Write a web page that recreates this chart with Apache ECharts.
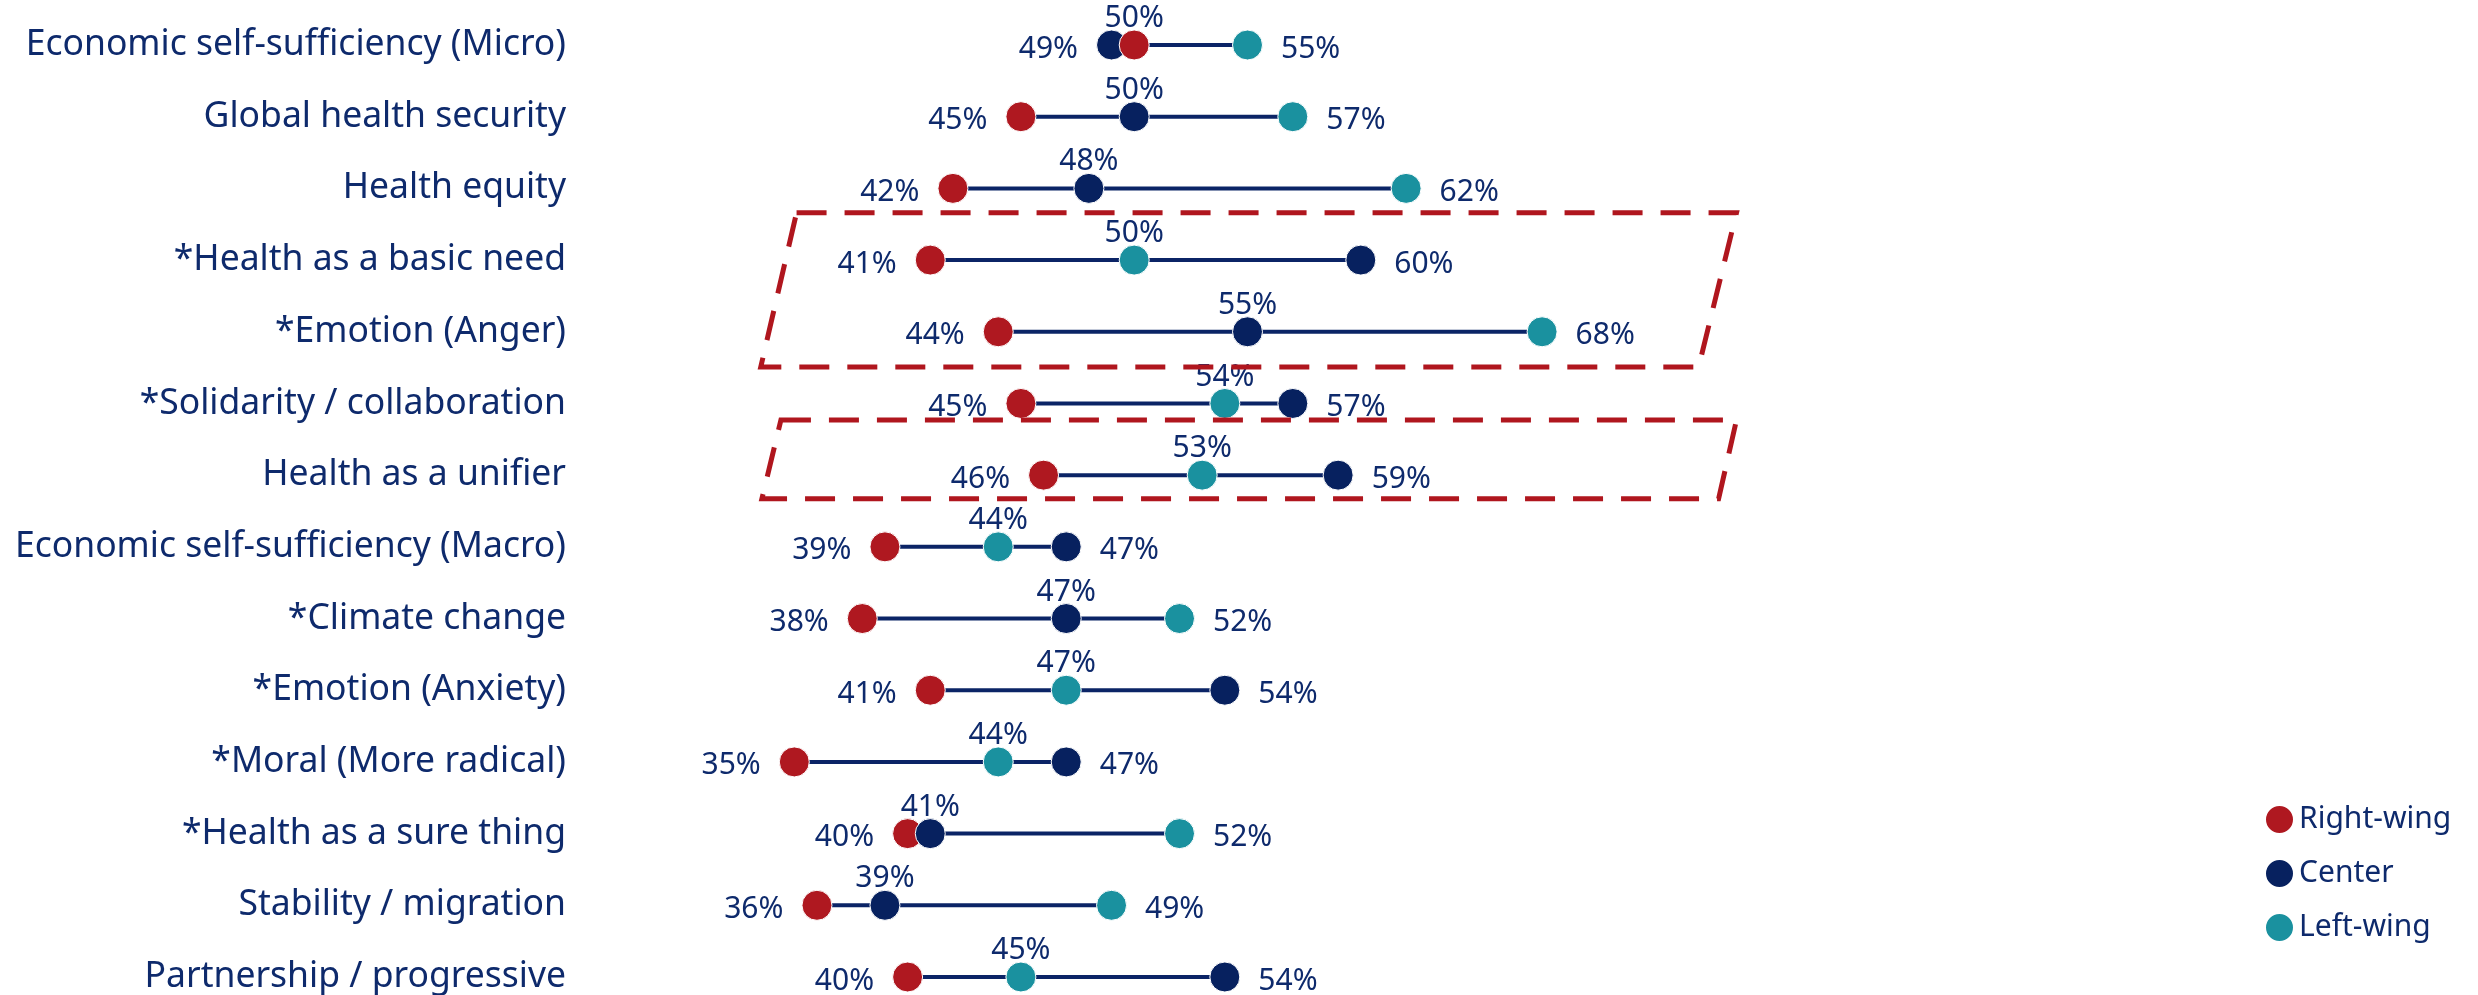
<!DOCTYPE html>
<html>
<head>
<meta charset="utf-8">
<script src="https://cdn.jsdelivr.net/npm/echarts@6/dist/echarts.min.js"></script>
<style>
  html, body { margin: 0; padding: 0; background: #fff; }
  #chart { width: 2478px; height: 995px; }
</style>
</head>
<body>
<div id="chart"></div>
<script>
// topic rows, top to bottom
const categories = [
  'Economic self-sufficiency (Micro)',
  'Global health security',
  'Health equity',
  '*Health as a basic need',
  '*Emotion (Anger)',
  '*Solidarity / collaboration',
  'Health as a unifier',
  'Economic self-sufficiency (Macro)',
  '*Climate change',
  '*Emotion (Anxiety)',
  '*Moral (More radical)',
  '*Health as a sure thing',
  'Stability / migration',
  'Partnership / progressive'
];
const rightWing = [50, 45, 42, 41, 44, 45, 46, 39, 38, 41, 35, 40, 36, 40];
const center    = [49, 50, 48, 60, 55, 57, 59, 47, 47, 54, 47, 41, 39, 54];
const leftWing  = [55, 57, 62, 50, 68, 54, 53, 44, 52, 47, 44, 52, 49, 45];

const groups = [
  { name: 'Right-wing', values: rightWing, color: '#AF1820' },
  { name: 'Center',     values: center,    color: '#07215F' },
  { name: 'Left-wing',  values: leftWing,  color: '#1A919F' }
];

const textColor = '#0E2A6C';
const font = 'Noto Sans';

const chart = echarts.init(document.getElementById('chart'));

// which dot is lowest / middle / highest in each row
function rankOf(gi, row) {
  const vals = groups.map(g => g.values[row]);
  const v = vals[gi];
  const sorted = vals.slice().sort((a, b) => a - b);
  if (v === sorted[0] && vals.indexOf(sorted[0]) === gi) return 'min';
  if (v === sorted[2] && vals.lastIndexOf(sorted[2]) === gi) return 'max';
  return 'mid';
}

const labelFor = {
  min: { position: 'left', distance: 18, offset: [0, 4] },
  max: { position: 'right', distance: 18, offset: [0, 4] },
  mid: { position: 'top', distance: -4, offset: [0, 0] }
};

const ranges = categories.map((c, i) => {
  const vals = groups.map(g => g.values[i]);
  return [Math.min(...vals), Math.max(...vals), i];
});

const series = [{
  type: 'custom',
  z: 1,
  silent: true,
  data: ranges,
  renderItem: function (params, api) {
    const a = api.coord([api.value(0), api.value(2)]);
    const b = api.coord([api.value(1), api.value(2)]);
    return {
      type: 'line',
      shape: { x1: a[0], y1: a[1], x2: b[0], y2: b[1] },
      style: { stroke: '#0B2466', lineWidth: 4 }
    };
  }
}];

// endpoints first, middle dots in a second series on top
['end', 'mid'].forEach(layer => {
  groups.forEach((g, gi) => {
    const data = [];
    g.values.forEach((v, i) => {
      const r = rankOf(gi, i);
      if ((layer === 'mid') !== (r === 'mid')) return;
      data.push({ value: [v, i], label: labelFor[r] });
    });
    series.push({
      name: g.name,
      type: 'scatter',
      z: layer === 'mid' ? 4 : 3,
      symbol: 'circle',
      symbolSize: 30,
      itemStyle: { color: g.color, borderColor: '#fff', borderWidth: 1, opacity: 1 },
      label: {
        show: true,
        color: textColor,
        fontFamily: font,
        fontSize: 30,
        formatter: p => p.value[0] + '%'
      },
      data: data
    });
  });
});

const option = {
  animation: false,
  backgroundColor: '#fff',
  grid: { left: 681, width: 1133, top: 45, bottom: 18 },
  legend: {
    orient: 'vertical',
    left: 2259,
    top: 799,
    itemWidth: 29,
    itemHeight: 29,
    itemGap: 23,
    icon: 'circle',
    data: groups.map(g => g.name),
    textStyle: { color: textColor, fontFamily: font, fontSize: 30 }
  },
  xAxis: {
    type: 'value',
    min: 30,
    max: 80,
    show: false
  },
  yAxis: {
    type: 'category',
    data: categories,
    inverse: true,
    boundaryGap: false,
    axisLine: { show: false },
    axisTick: { show: false },
    splitLine: { show: false },
    axisLabel: { color: textColor, fontFamily: font, fontSize: 35.5, margin: 115 }
  },
  series: series
};

chart.setOption(option);

// dashed highlight boxes (slanted), placed in axis units
const boxes = [
  { top: 2.34, bottom: 4.49, topX: [35.1, 76.58], bottomX: [33.52, 74.91] },
  { top: 5.23, bottom: 6.33, topX: [34.41, 76.58], bottomX: [33.57, 75.79] }
];
const y0 = chart.convertToPixel({ gridIndex: 0 }, [40, 0])[1];
const y1 = chart.convertToPixel({ gridIndex: 0 }, [40, 1])[1];
const yAt = r => y0 + r * (y1 - y0);
const xAt = v => chart.convertToPixel({ gridIndex: 0 }, [v, 0])[0];

chart.setOption({
  graphic: boxes.map(b => ({
    type: 'polygon',
    z: 10,
    silent: true,
    shape: {
      points: [
        [xAt(b.topX[0]), yAt(b.top)],
        [xAt(b.topX[1]), yAt(b.top)],
        [xAt(b.bottomX[1]), yAt(b.bottom)],
        [xAt(b.bottomX[0]), yAt(b.bottom)]
      ]
    },
    style: { fill: 'none', stroke: '#B0161E', lineWidth: 5, lineDash: [30, 18] }
  }))
});
</script>
</body>
</html>
